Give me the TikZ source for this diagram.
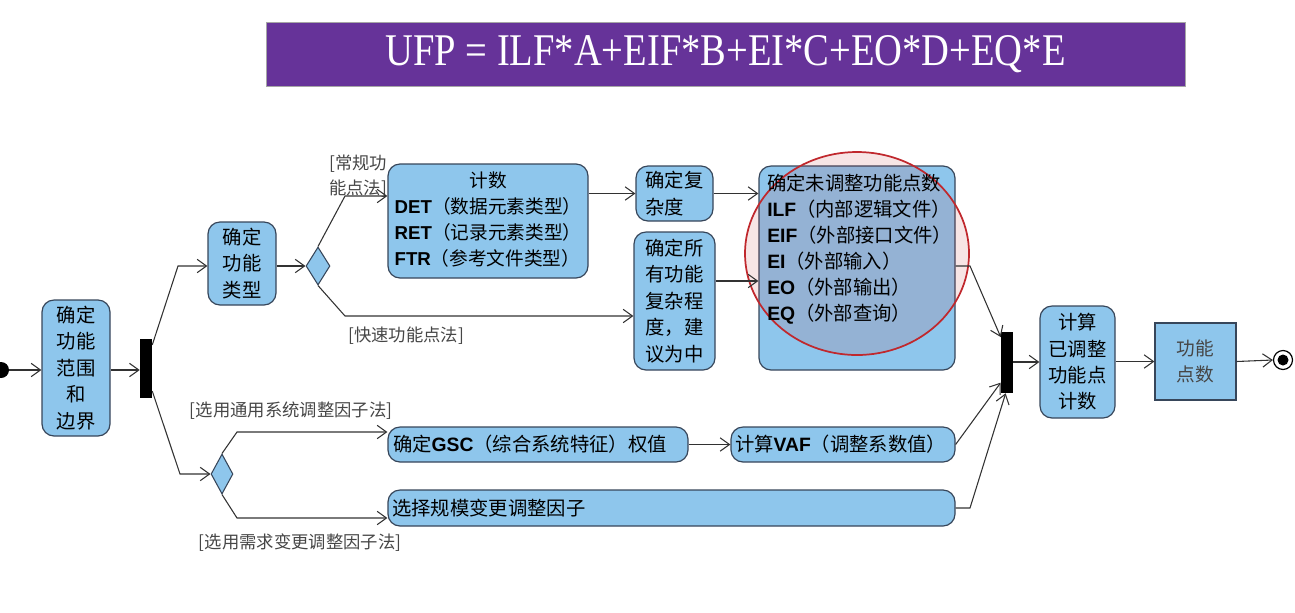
\documentclass[tikz,border=0pt]{standalone}
\usepackage{fontspec}
\setmainfont{Noto Sans CJK SC}
\newfontfamily\titlefont{Liberation Serif}
\newfontfamily\latinb{Liberation Sans}
\usetikzlibrary{arrows.meta,shapes.geometric,calc}
\definecolor{bl}{RGB}{142,198,236}
\definecolor{bd}{RGB}{55,70,90}
\definecolor{pur}{RGB}{102,51,153}
\definecolor{ln}{RGB}{50,50,50}
\definecolor{rc}{RGB}{192,40,45}
\definecolor{lg}{RGB}{70,70,70}
\newcommand\LB[1]{{\latinb\bfseries #1}}
\tikzset{
  sz/.style 2 args={minimum width=#1*0.75pt, minimum height=#2*0.75pt},
  act/.style={draw=bd, fill=bl, rounded corners=9pt, line width=0.9pt, inner sep=0pt,
              font=\fontsize{14.5}{19.8}\selectfont, align=center},
  plain/.style={draw=bd, fill=bl, line width=0.9pt, inner sep=0pt,
              font=\fontsize{14}{19.8}\selectfont, align=center, text=lg},
  barnode/.style={fill=black, draw=none, inner sep=0pt},
  dia/.style={diamond, draw=bd, fill=bl, line width=0.8pt, inner sep=0pt, aspect=0.6},
  arr/.style={draw=ln, line width=0.8pt, -{Straight Barb[length=7pt,width=10pt]}},
  lbl/.style={font=\fontsize{13}{18.5}\selectfont, text=lg, inner sep=0pt},
  txt/.style={font=\fontsize{14.5}{19.5}\selectfont, inner sep=0pt, align=left},
}
\begin{document}
\begin{tikzpicture}[x=0.75pt,y=-0.75pt]
\useasboundingbox (0,0) rectangle (1295,612);

% title
\node[fill=pur, draw=gray!70, line width=0.6pt, sz={919}{64}, text=white, inner sep=0pt]
  (title) at (725.5,54) {\titlefont\fontsize{34}{36}\selectfont\scalebox{0.85}[1]{UFP = ILF*A+EIF*B+EI*C+EO*D+EQ*E}};

% nodes
\node[circle, fill=black, minimum size=16*0.75pt, inner sep=0pt] (start) at (1,370) {};
\node[act, sz={68}{136}] (b1) at (76,368) {确定\\功能\\范围\\和\\边界};
\node[barnode, sz={12}{59}] (bar1) at (146,368) {};
\node[act, sz={68}{83}] (b2) at (242,263.5) {确定\\功能\\类型};
\node[dia, sz={24}{38}] (d1) at (318,266) {};
\node[act, sz={200}{114}, font=\fontsize{14}{19.5}\selectfont] (cnt) at (488,221)
  {\begin{tabular}{@{}l@{}}\multicolumn{1}{@{}c@{}}{计数}\\
   \LB{DET}（数据元素类型）\\ \LB{RET}（记录元素类型）\\ \LB{FTR}（参考文件类型）\end{tabular}};
\node[act, sz={77}{55}, align=left] (cx) at (674.5,193.5) {确定复\\杂度};
\node[act, sz={81}{138}, align=left] (all) at (674.5,301) {确定所\\有功能\\复杂程\\度，建\\议为中};
\node[act, sz={196}{204}] (big) at (857,268) {};
\draw[rc, line width=1.3pt, fill=rc, fill opacity=0.12] (857,253.5) ellipse [x radius=112, y radius=101.5];
\node[txt, anchor=north west] (bigt) at (767,174)
  {确定未调整功能点数\\ \LB{ILF}（内部逻辑文件）\\ \LB{EIF}（外部接口文件）\\ \LB{EI}（外部输入）\\ \LB{EO}（外部输出）\\ \LB{EQ}（外部查询）};
\node[barnode, sz={12}{61}] (bar2) at (1007,362.5) {};
\node[act, sz={75}{112}] (adj) at (1077.5,362) {计算\\已调整\\功能点\\计数};
\node[plain, sz={81}{77}] (fp) at (1195.5,361.5) {功能\\点数};
\node[circle, draw=black, fill=white, line width=0.9pt, minimum size=19*0.75pt, inner sep=0pt] (endo) at (1283,360) {};
\node[circle, fill=black, minimum size=11*0.75pt, inner sep=0pt] (endi) at (1283,360) {};

\node[dia, sz={22}{40}] (d2) at (222,474) {};
\node[act, sz={300}{35}, text width=290*0.75pt, align=left] (gsc) at (538,444.5) {确定\LB{GSC}（综合系统特征）权值};
\node[act, sz={224}{35}, text width=216*0.75pt, align=left] (vaf) at (843,444.5) {计算\LB{VAF}（调整系数值）};
\node[act, sz={567}{36}, text width=559*0.75pt, align=left] (sel) at (671.5,508) {选择规模变更调整因子};

% labels
\node[lbl, anchor=north west, align=left] (l1) at (329,155) {[常规功\\能点法]};
\node[lbl] (l2) at (406,336) {[快速功能点法]};
\node[lbl] (l3) at (291,411) {[选用通用系统调整因子法]};
\node[lbl] (l4) at (300,543) {[选用需求变更调整因子法]};

% helper coordinates
\coordinate (k1) at (178,266);
\coordinate (k2) at (180,474);
\coordinate (k3) at (345,196);
\coordinate (k4) at (345,316);
\coordinate (k5) at (0,281);
\coordinate (k6) at (970,266);
\coordinate (k7) at (237,432);
\coordinate (k8) at (237,518);
\coordinate (k9) at (970,508);

% connectors
\draw[arr] (start) -- (b1.west |- start);
\draw[arr] (b1.east |- start) -- (bar1.west |- start);
\draw[arr] ([yshift=-5pt]bar1.north east) -- (k1) -- (b2.west |- k1);
\draw[arr] ([yshift=5pt]bar1.south east) -- (k2) -- (d2.west);
\draw[arr] (b2.east |- d1) -- (d1.west);
\draw[arr] (d1.north) -- (k3) -- (cnt.west |- k3);
\draw[arr] (d1.south) -- (k4) -- (all.west |- k4);
\draw[arr] (cnt.east |- cx) -- (cx.west);
\draw[arr] (cx.east) -- (big.west |- cx);
\draw[arr] (all.east |- k5) -- (big.west |- k5);
\draw[arr] (big.east |- k6) -- (k6) -- ([yshift=-4pt]bar2.north west);
\draw[arr] (vaf.east) -- ([yshift=8pt]bar2.south west);
\draw[arr] (sel.east) -- (k9) -- ([xshift=-1pt]bar2.south);
\draw[arr] (bar2.east |- adj) -- (adj.west);
\draw[arr] (adj.east |- fp) -- (fp.west);
\draw[arr] (fp.east) -- (endo.west);
\draw[arr] (d2.north) -- (k7) -- (gsc.west |- k7);
\draw[arr] (d2.south) -- (k8) -- (sel.west |- k8);
\draw[arr] (gsc.east) -- (vaf.west);
\end{tikzpicture}
\end{document}
